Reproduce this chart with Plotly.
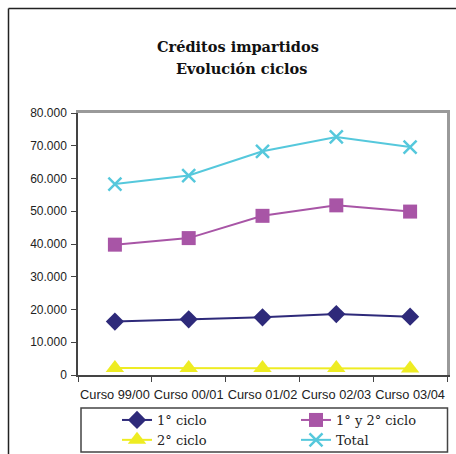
import plotly.graph_objects as go

categories = ["Curso 99/00", "Curso 00/01", "Curso 01/02", "Curso 02/03", "Curso 03/04"]
ciclo1 = [16300, 17000, 17600, 18600, 17800]
ciclo12 = [39800, 41800, 48600, 51800, 49900]
ciclo2 = [2100, 2100, 2100, 2100, 2000]
total = [58300, 60900, 68300, 72700, 69600]
title_lines = ["Créditos impartidos", "Evolución ciclos"]

series = [
    ("1° ciclo", ciclo1, "#2E2A7A", "diamond", 14),
    ("1° y 2° ciclo", ciclo12, "#A855A6", "square", 14),
    ("2° ciclo", ciclo2, "#EEEC22", "triangle-up", 16),
    ("Total", total, "#55C8DC", "x-thin", 13),
]

fig = go.Figure()
for name, vals, col, sym, sz in series:
    fig.add_trace(go.Scatter(
        x=categories, y=vals, name=name, mode="lines+markers",
        line=dict(color=col, width=2),
        marker=dict(symbol=sym, size=sz, color=col,
                    line=dict(color=col, width=2.5 if sym == "x-thin" else 0)),
    ))

W, H = 456, 454
L, R, T, B = 78, 9, 113, 79
pw, ph = W - L - R, H - T - B

def px(x):
    return (x - L) / pw

def py(y):
    return (H - B - y) / ph

annotations = [
    dict(text="<b>%s</b>" % t, x=px(cx), y=py(cy), xref="paper", yref="paper",
         xanchor="center", yanchor="middle", showarrow=False,
         font=dict(family="DejaVu Serif, serif", size=14.5, color="#111111"))
    for t, cx, cy in zip(title_lines, [237.5, 241], [46.5, 69])
]

fig.update_layout(
    width=W, height=H,
    margin=dict(l=L, r=R, t=T, b=B, pad=0, autoexpand=False),
    paper_bgcolor="white", plot_bgcolor="white",
    separators=",.",
    font=dict(family="Liberation Sans, Arial, sans-serif", size=12, color="#222222"),
    annotations=annotations,
    xaxis=dict(
        range=[-0.5, 4.5], showgrid=False, zeroline=False,
        showline=True, linecolor="#444444", linewidth=1.5,
        ticks="outside", ticklen=5, tickcolor="#444444", tickson="boundaries",
        tickfont=dict(size=12.8), tickangle=0, ticklabelstandoff=7, mirror=False,
    ),
    xaxis2=dict(overlaying="x", showline=True, linecolor="#9A9A9A", linewidth=2.5,
                side="top", showticklabels=False, ticks="", range=[-0.5, 4.5],
                showgrid=False, zeroline=False),
    yaxis=dict(
        range=[0, 80000], dtick=10000, tickformat=",d", showgrid=False,
        zeroline=False, showline=True, linecolor="#444444", linewidth=1.5,
        ticks="outside", ticklen=5, tickcolor="#444444", ticklabelstandoff=2,
        tickfont=dict(size=12),
    ),
    yaxis2=dict(overlaying="y", side="right", showline=True, linecolor="#9A9A9A",
                linewidth=2.5, showticklabels=False, ticks="", range=[0, 80000],
                showgrid=False, zeroline=False),
    showlegend=True,
    legend=dict(
        orientation="h", x=px(117), xanchor="left", y=py(405), yanchor="top",
        entrywidth=134, entrywidthmode="pixels",
        bgcolor="rgba(0,0,0,0)", borderwidth=0,
        font=dict(family="DejaVu Serif, serif", size=13, color="#222222"),
        tracegroupgap=0, itemwidth=30,
    ),
    shapes=[
        dict(type="line", xref="paper", yref="paper", x0=px(8.5), x1=px(470),
             y0=py(8.5), y1=py(8.5), line=dict(color="#222222", width=1.5)),
        dict(type="line", xref="paper", yref="paper", x0=px(8.5), x1=px(8.5),
             y0=py(8.5), y1=py(470), line=dict(color="#222222", width=1.5)),
        dict(type="rect", xref="paper", yref="paper", x0=px(81), x1=px(447.5),
             y0=py(408), y1=py(452), line=dict(color="#444444", width=1.5),
             fillcolor="white", layer="below"),
    ],
)
fig.add_trace(go.Scatter(x=[None], y=[None], xaxis="x2", yaxis="y2", showlegend=False, hoverinfo="skip"))

fig.write_html("out.html", config={"displayModeBar": False},
               post_script="document.body.style.margin='0';document.body.style.overflow='hidden';")
